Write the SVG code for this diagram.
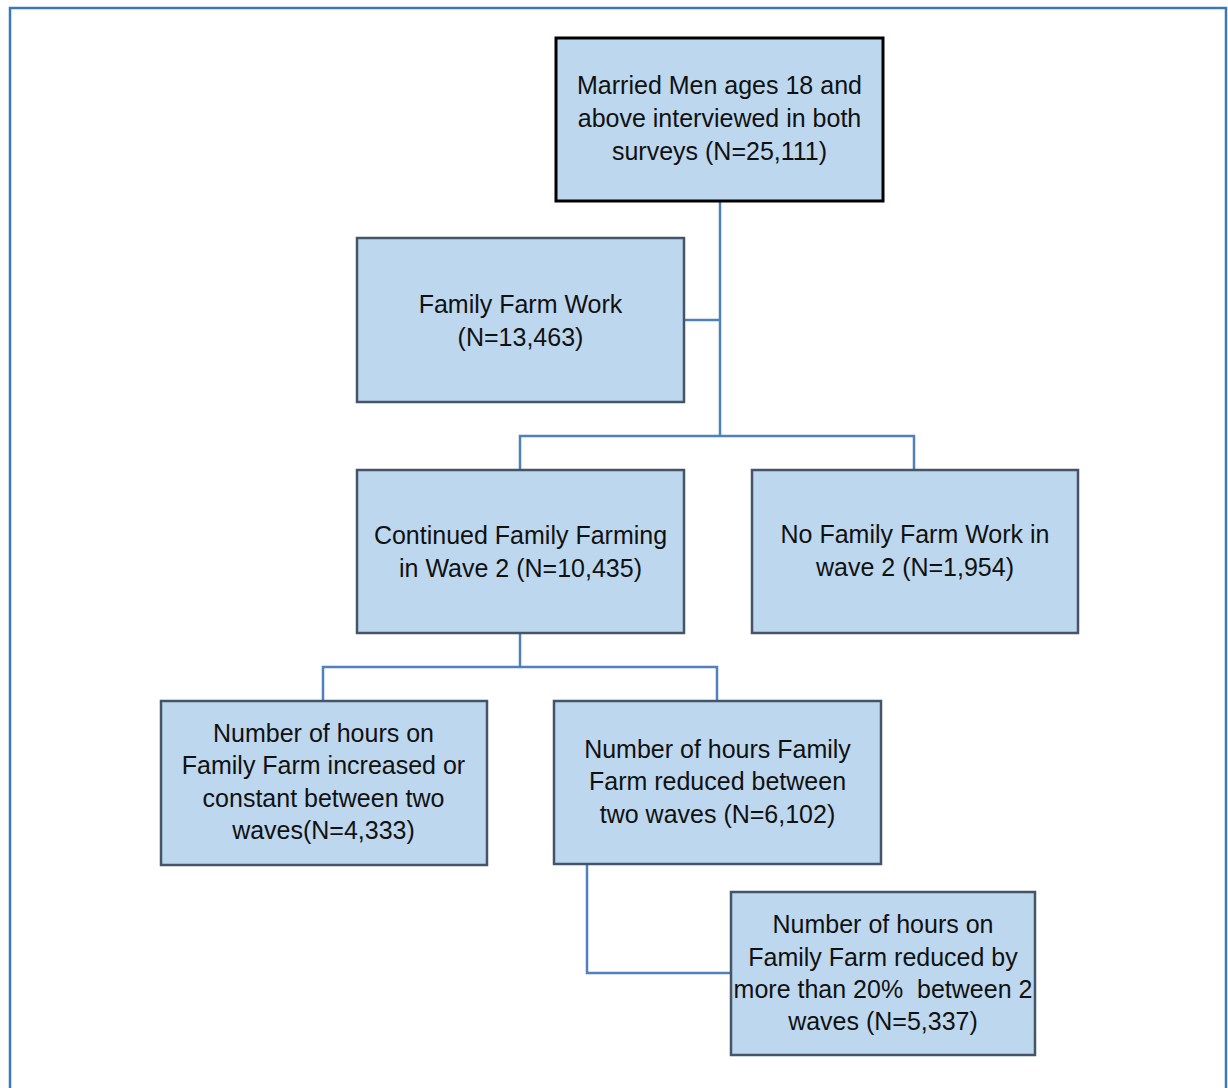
<svg xmlns="http://www.w3.org/2000/svg" width="1228" height="1088" viewBox="0 0 1228 1088">
<style>
.box{fill:#bdd7ee;stroke:#44546a;stroke-width:2.5}
.root{fill:#bdd7ee;stroke:#000;stroke-width:3}
.t{font-family:"Liberation Sans",Arial,sans-serif;font-size:25px;fill:#111;text-anchor:middle;white-space:pre}
.c{fill:none;stroke:#4f81bd;stroke-width:2.5}
</style>
<rect width="1228" height="1088" fill="#fff"/>
<path d="M10,1092 V8 H1226 V1092" fill="none" stroke="#3b78bb" stroke-width="2.5"/>
<g id="connectors">
<path class="c" d="M720,201 V436"/>
<path class="c" d="M684,320 H720"/>
<path class="c" d="M520,470 V436 H914 V470"/>
<path class="c" d="M520,633 V667"/>
<path class="c" d="M323,701 V667 H717 V701"/>
<path class="c" d="M587,864 V973 H731"/>
</g>
<g id="n1">
<rect class="root" x="556" y="38" width="327" height="163"/>
<text class="t" x="719.5" y="94">Married Men ages 18 and</text>
<text class="t" x="719.5" y="127">above interviewed in both</text>
<text class="t" x="719.5" y="160">surveys (N=25,111)</text>
</g>
<g id="n2">
<rect class="box" x="357" y="238" width="327" height="164"/>
<text class="t" x="520.5" y="313">Family Farm Work</text>
<text class="t" x="520.5" y="346">(N=13,463)</text>
</g>
<g id="n3">
<rect class="box" x="357" y="470" width="327" height="163"/>
<text class="t" x="520.5" y="544">Continued Family Farming</text>
<text class="t" x="520.5" y="577">in Wave 2 (N=10,435)</text>
</g>
<g id="n4">
<rect class="box" x="752" y="470" width="326" height="163"/>
<text class="t" x="915" y="543">No Family Farm Work in</text>
<text class="t" x="915" y="576">wave 2 (N=1,954)</text>
</g>
<g id="n5">
<rect class="box" x="161" y="701" width="326" height="164"/>
<text class="t" x="323.5" y="742">Number of hours on</text>
<text class="t" x="323.5" y="774">Family Farm increased or</text>
<text class="t" x="323.5" y="807">constant between two</text>
<text class="t" x="323.5" y="839">waves(N=4,333)</text>
</g>
<g id="n6">
<rect class="box" x="554" y="701" width="327" height="163"/>
<text class="t" x="717.5" y="758">Number of hours Family</text>
<text class="t" x="717.5" y="790">Farm reduced between</text>
<text class="t" x="717.5" y="823">two waves (N=6,102)</text>
</g>
<g id="n7">
<rect class="box" x="731" y="892" width="304" height="163"/>
<text class="t" x="883" y="933">Number of hours on</text>
<text class="t" x="883" y="966">Family Farm reduced by</text>
<text class="t" x="883" y="998">more than 20%  between 2</text>
<text class="t" x="883" y="1030">waves (N=5,337)</text>
</g>
</svg>
